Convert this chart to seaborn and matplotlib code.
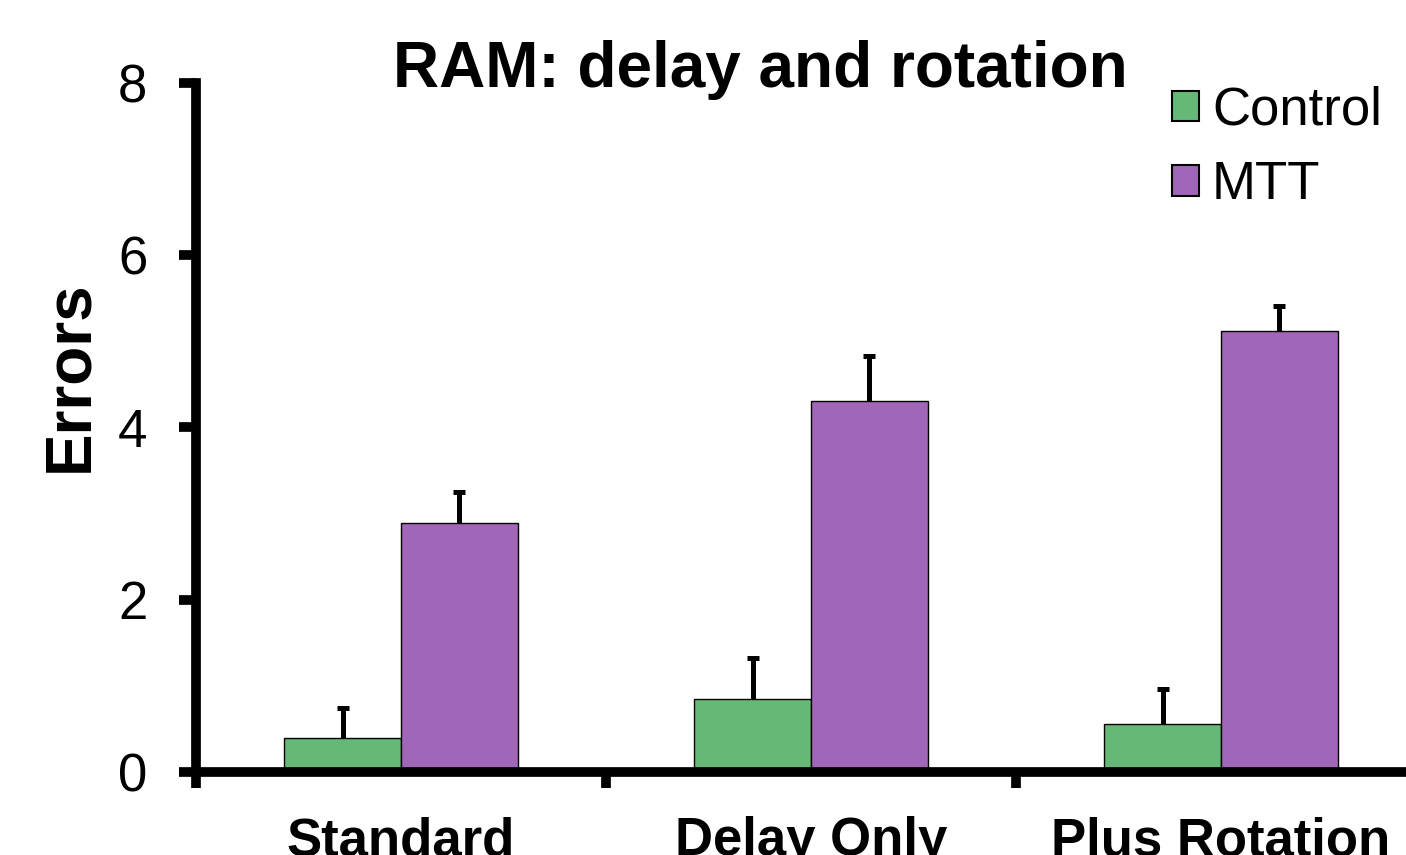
import numpy as np
import pandas as pd
import seaborn as sns
import matplotlib.pyplot as plt

conditions = ["Standard", "Delay Only", "Plus Rotation"]
groups = ["Control", "MTT"]
control_mean = [0.39, 0.85, 0.56]
control_sem = [0.35, 0.47, 0.40]
mtt_mean = [2.89, 4.31, 5.12]
mtt_sem = [0.36, 0.52, 0.29]
colors = ["#66B877", "#A066B8"]

df = pd.DataFrame({
    "condition": conditions * 2,
    "group": [groups[0]] * 3 + [groups[1]] * 3,
    "errors": control_mean + mtt_mean,
})
sems = {groups[0]: control_sem, groups[1]: mtt_sem}

sns.set_style("white")
plt.rcParams["font.family"] = ["Liberation Sans", "DejaVu Sans"]
plt.rcParams.update({"text.color": "black", "axes.labelcolor": "black",
                     "xtick.color": "black", "ytick.color": "black"})

fig = plt.figure(figsize=(14.06, 8.55), dpi=100)
ax = fig.add_axes([196 / 1406, 83 / 855, 1230 / 1406, 689 / 855])

sns.barplot(data=df, x="condition", y="errors", hue="group",
            palette=colors, saturation=1, width=0.57, errorbar=None,
            edgecolor="black", linewidth=1.0, ax=ax, zorder=2)

# error bars drawn behind the bars so only the upper half shows
for cont, g in zip(ax.containers, groups):
    xs = [p.get_x() + p.get_width() / 2 for p in cont]
    ys = [p.get_height() for p in cont]
    ax.errorbar(xs, ys, yerr=sems[g], fmt="none", ecolor="black",
                elinewidth=3.6, capsize=4.5, capthick=3.6, zorder=1)

ax.set_xlim(-0.5, 2.5)
ax.set_ylim(0, 8)
ax.set_yticks([0, 2, 4, 6, 8])
ax.set_xticks([0, 1, 2])
ax.set_xticks([-0.5, 0.5, 1.5], minor=True)
ax.tick_params(axis="y", which="major", direction="out", length=12,
               width=7, labelsize=38, pad=23, left=True)
ax.tick_params(axis="x", which="major", length=0, labelsize=38, pad=32)
ax.tick_params(axis="x", which="minor", direction="out", length=11.5,
               width=7, bottom=True)
for lab in ax.get_xticklabels():
    lab.set_fontweight("bold")

sns.despine(ax=ax, top=True, right=True)
for side in ["left", "bottom"]:
    ax.spines[side].set_linewidth(7)
    ax.spines[side].set_color("black")
    ax.spines[side].set_zorder(3)

ax.set_xlabel("")
ax.set_ylabel("Errors", fontsize=46, fontweight="bold")
ax.yaxis.set_label_coords(-0.078, 0.574)
ax.set_title("RAM: delay and rotation", fontsize=46, fontweight="bold",
             pad=-3, x=0.459)

leg = ax.legend(loc="upper right", bbox_to_anchor=(1382 / 1406, 769 / 855),
                bbox_transform=fig.transFigure, frameon=False, fontsize=38,
                handlelength=0.51, handleheight=0.51, handletextpad=0.25,
                labelspacing=0.46, borderpad=0, borderaxespad=0)
for h in leg.legend_handles:
    h.set_linewidth(1.5)

fig.savefig("out.png", dpi=100)
